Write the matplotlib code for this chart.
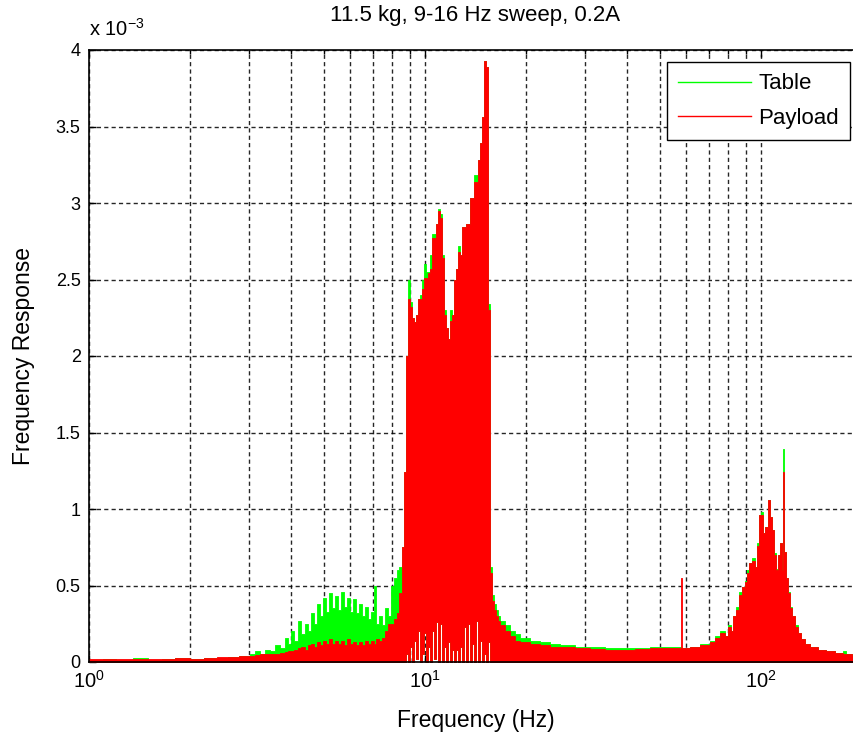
import numpy as np
import matplotlib
matplotlib.use('Agg')
import matplotlib.pyplot as plt
from matplotlib.lines import Line2D
from matplotlib.ticker import LogLocator, NullFormatter, FuncFormatter, MultipleLocator

# spectrum (amplitudes in units of 1e-3)
freq = [1.00, 1.10, 1.20, 1.35, 1.50, 1.65, 1.80, 2.00, 2.20, 2.40, 2.60, 2.80,
        3.01, 3.12, 3.23, 3.34, 3.45, 3.57, 3.70, 3.83, 3.91, 3.99,
        4.08, 4.19, 4.27, 4.39, 4.48, 4.58, 4.67, 4.77, 4.87, 4.97,
        5.08, 5.18, 5.29, 5.40, 5.52, 5.63, 5.75, 5.87, 6.00, 6.12,
        6.25, 6.37, 6.50, 6.63, 6.77, 6.91, 7.05, 7.15, 7.29, 7.44,
        7.59, 7.75, 7.90, 8.07, 8.23, 8.40, 8.54,
        8.66, 8.78, 8.90, 9.03, 9.15, 9.28, 9.40, 9.53, 9.66, 9.80,
        9.93, 10.07, 10.21, 10.35, 10.49, 10.64, 10.78, 10.93, 11.08, 11.23,
        11.39, 11.55, 11.71, 11.87, 12.03, 12.20, 12.37, 12.54, 12.71, 12.89,
        13.07, 13.25, 13.43, 13.62, 13.80, 13.99, 14.19, 14.38, 14.58, 14.78,
        14.99, 15.19, 15.40, 15.62, 15.83, 16.05, 16.27, 16.50, 16.72,
        17.3, 17.9, 18.5, 19.2, 20.6, 22.0, 23.5, 25.2, 28.0, 31.0,
        34.4, 38.0, 42.2, 46.7, 51.8, 56.3, 58.0, 58.4, 61.6, 65.8,
        70.6, 73.0, 75.5, 78.0, 79.6, 81.5, 82.5, 84.2, 86.0, 87.8,
        89.6, 90.8, 92.1, 94.0, 95.9, 97.3, 98.6, 100.0, 101.4, 102.8,
        104.9, 106.4, 107.8, 109.3, 110.8, 112.4, 113.9, 115.5, 116.3, 117.1,
        118.7, 120.3, 121.9, 123.6, 126.1, 128.7, 131.4, 135.0, 139.9, 147.8,
        155.9, 166.0, 175.5, 179.0, 186.6, 200.0]

table = [0.015, 0.02, 0.015, 0.025, 0.015, 0.02, 0.025, 0.02, 0.025, 0.02, 0.03, 0.04,
         0.05, 0.07, 0.05, 0.08, 0.07, 0.11, 0.09, 0.16, 0.12, 0.20,
         0.14, 0.27, 0.18, 0.25, 0.20, 0.32, 0.25, 0.38, 0.30, 0.42,
         0.33, 0.45, 0.35, 0.43, 0.34, 0.46, 0.36, 0.42, 0.33, 0.41,
         0.32, 0.38, 0.30, 0.36, 0.28, 0.33, 0.50, 0.25, 0.30, 0.24,
         0.35, 0.30, 0.50, 0.55, 0.60, 0.62, 0.75,
         1.24, 2.00, 2.50, 2.35, 2.25, 2.22, 2.27, 2.37, 2.40, 2.50,
         2.60, 2.55, 2.55, 2.66, 2.80, 2.80, 2.86, 2.96, 2.93, 2.66,
         2.30, 2.18, 2.11, 2.30, 2.27, 2.50, 2.57, 2.72, 2.66, 2.84,
         2.84, 2.86, 2.86, 3.03, 3.03, 3.18, 3.18, 3.28, 3.39, 3.56,
         3.93, 3.89, 2.34, 0.62, 0.44, 0.38, 0.34, 0.30, 0.27,
         0.24, 0.20, 0.18, 0.16, 0.14, 0.13, 0.12, 0.11, 0.10, 0.095,
         0.09, 0.09, 0.09, 0.095, 0.095, 0.10, 0.09, 0.09, 0.10, 0.12,
         0.14, 0.17, 0.20, 0.17, 0.24, 0.20, 0.30, 0.36, 0.46, 0.49,
         0.53, 0.60, 0.65, 0.68, 0.62, 0.78, 0.96, 0.98, 0.84, 0.88,
         1.06, 0.95, 0.86, 0.71, 0.61, 0.70, 0.78, 0.60, 1.39, 0.72,
         0.55, 0.46, 0.36, 0.30, 0.24, 0.19, 0.15, 0.12, 0.10, 0.08,
         0.07, 0.06, 0.07, 0.05, 0.04, 0.04]

payload = [0.02, 0.02, 0.02, 0.02, 0.02, 0.02, 0.025, 0.02, 0.025, 0.03, 0.035, 0.04,
           0.04, 0.045, 0.05, 0.05, 0.05, 0.055, 0.06, 0.065, 0.07, 0.07,
           0.08, 0.09, 0.10, 0.08, 0.11, 0.12, 0.10, 0.13, 0.11, 0.14,
           0.12, 0.15, 0.12, 0.14, 0.12, 0.14, 0.11, 0.15, 0.12, 0.13,
           0.11, 0.13, 0.11, 0.14, 0.12, 0.14, 0.12, 0.15, 0.14, 0.16,
           0.20, 0.25, 0.25, 0.28, 0.32, 0.45, 0.75,
           1.24, 2.00, 2.37, 2.32, 2.25, 2.22, 2.27, 2.37, 2.37, 2.44,
           2.51, 2.51, 2.54, 2.57, 2.77, 2.77, 2.86, 2.95, 2.90, 2.64,
           2.27, 2.18, 2.11, 2.23, 2.27, 2.50, 2.57, 2.68, 2.66, 2.84,
           2.84, 2.86, 2.86, 3.03, 3.03, 3.14, 3.14, 3.28, 3.39, 3.56,
           3.93, 3.89, 2.30, 0.58, 0.40, 0.34, 0.30, 0.27, 0.24,
           0.20, 0.17, 0.14, 0.13, 0.12, 0.11, 0.10, 0.10, 0.09, 0.085,
           0.08, 0.08, 0.085, 0.09, 0.09, 0.09, 0.55, 0.09, 0.10, 0.11,
           0.13, 0.16, 0.19, 0.17, 0.23, 0.20, 0.30, 0.34, 0.44, 0.49,
           0.52, 0.58, 0.65, 0.66, 0.62, 0.76, 0.96, 0.96, 0.84, 0.88,
           1.06, 0.95, 0.86, 0.70, 0.60, 0.70, 0.78, 0.60, 1.24, 0.72,
           0.55, 0.45, 0.35, 0.30, 0.23, 0.19, 0.15, 0.12, 0.10, 0.08,
           0.07, 0.06, 0.05, 0.05, 0.04, 0.04]

# lowest level the signals dip to (white gaps under the sweep band)
floor = [0.0] * 59 + \
        [0.0, 0.05, 0.0, 0.10, 0.0, 0.14, 0.02, 0.20, 0.0, 0.05,
         0.19, 0.0, 0.10, 0.0, 0.20, 0.02, 0.26, 0.0, 0.25, 0.0,
         0.10, 0.0, 0.13, 0.0, 0.08, 0.0, 0.08, 0.0, 0.10, 0.0,
         0.23, 0.0, 0.25, 0.0, 0.12, 0.0, 0.27, 0.0, 0.14, 0.0,
         0.05, 0.0, 0.13, 0.0, 0.0, 0.0, 0.0, 0.0, 0.0] + [0.0] * 66

assert len(freq) == len(table) == len(payload) == len(floor)

plt.rcParams['font.family'] = ['Liberation Sans', 'DejaVu Sans']
plt.rcParams['mathtext.fontset'] = 'custom'
plt.rcParams['mathtext.rm'] = 'Liberation Sans'
plt.rcParams['mathtext.it'] = 'Liberation Sans:italic'
plt.rcParams['mathtext.bf'] = 'Liberation Sans:bold'
plt.rcParams['lines.scale_dashes'] = False
plt.rcParams['font.size'] = 12.5

GREEN = (0, 1, 0)
RED = (1, 0, 0)


def plot_response():
    fig = plt.figure(figsize=(8.54, 7.39), dpi=100)
    ax = fig.add_axes([89 / 854, 77 / 739, 773 / 854, 612 / 739])

    ax.fill_between(freq, floor, table, step='post', facecolor=GREEN,
                    edgecolor=GREEN, lw=0.6)
    ax.fill_between(freq, floor, payload, step='post', facecolor=RED,
                    edgecolor=RED, lw=0.6)

    ax.set_xscale('log')
    ax.set_xlim(1, 200)
    ax.set_ylim(0, 4)
    ax.xaxis.set_major_locator(LogLocator(base=10))
    ax.xaxis.set_minor_locator(LogLocator(base=10, subs=np.arange(2, 10)))
    ax.xaxis.set_minor_formatter(NullFormatter())
    ax.yaxis.set_major_locator(MultipleLocator(0.5))
    ax.yaxis.set_major_formatter(FuncFormatter(lambda v, p: '%g' % v))

    ax.set_axisbelow(True)
    grid_kw = dict(color='k', alpha=0.85, linewidth=1.0, linestyle=(0, (3.0, 2.3)))
    ax.grid(True, which='both', axis='x', **grid_kw)
    ax.grid(True, which='major', axis='y', **grid_kw)

    ax.tick_params(which='both', direction='in', top=True, right=True, colors='k')
    ax.tick_params(which='major', length=5, width=1)
    ax.tick_params(which='minor', length=3, width=1)
    ax.tick_params(axis='x', pad=6, labelsize=14.5)
    ax.tick_params(axis='y', pad=6, labelsize=13)
    for s in ax.spines.values():
        s.set_linewidth(1.2)

    ax.text(0, 1.017, r'x 10$^{-3}$', transform=ax.transAxes, ha='left',
            va='bottom', fontsize=14.5)
    ax.set_title('11.5 kg, 9-16 Hz sweep, 0.2A', pad=21, fontsize=16)
    ax.set_xlabel('Frequency (Hz)', fontsize=16.5)
    ax.set_ylabel('Frequency Response', fontsize=16.5)
    ax.xaxis.set_label_coords(0.5, -0.077)
    ax.yaxis.set_label_coords(-0.07, 0.5)

    handles = [Line2D([], [], color=GREEN, lw=1), Line2D([], [], color=RED, lw=1)]
    leg = ax.legend(handles, ['Table', 'Payload'], loc='upper right',
                    fancybox=False, framealpha=1, edgecolor='k', fontsize=16,
                    handlelength=3.3, handletextpad=0.3, labelspacing=0.6,
                    borderaxespad=0.55, borderpad=0.5)
    leg.get_frame().set_linewidth(1.0)

    fig.savefig('out.png', dpi=100)


if __name__ == "__main__":
    plot_response()
